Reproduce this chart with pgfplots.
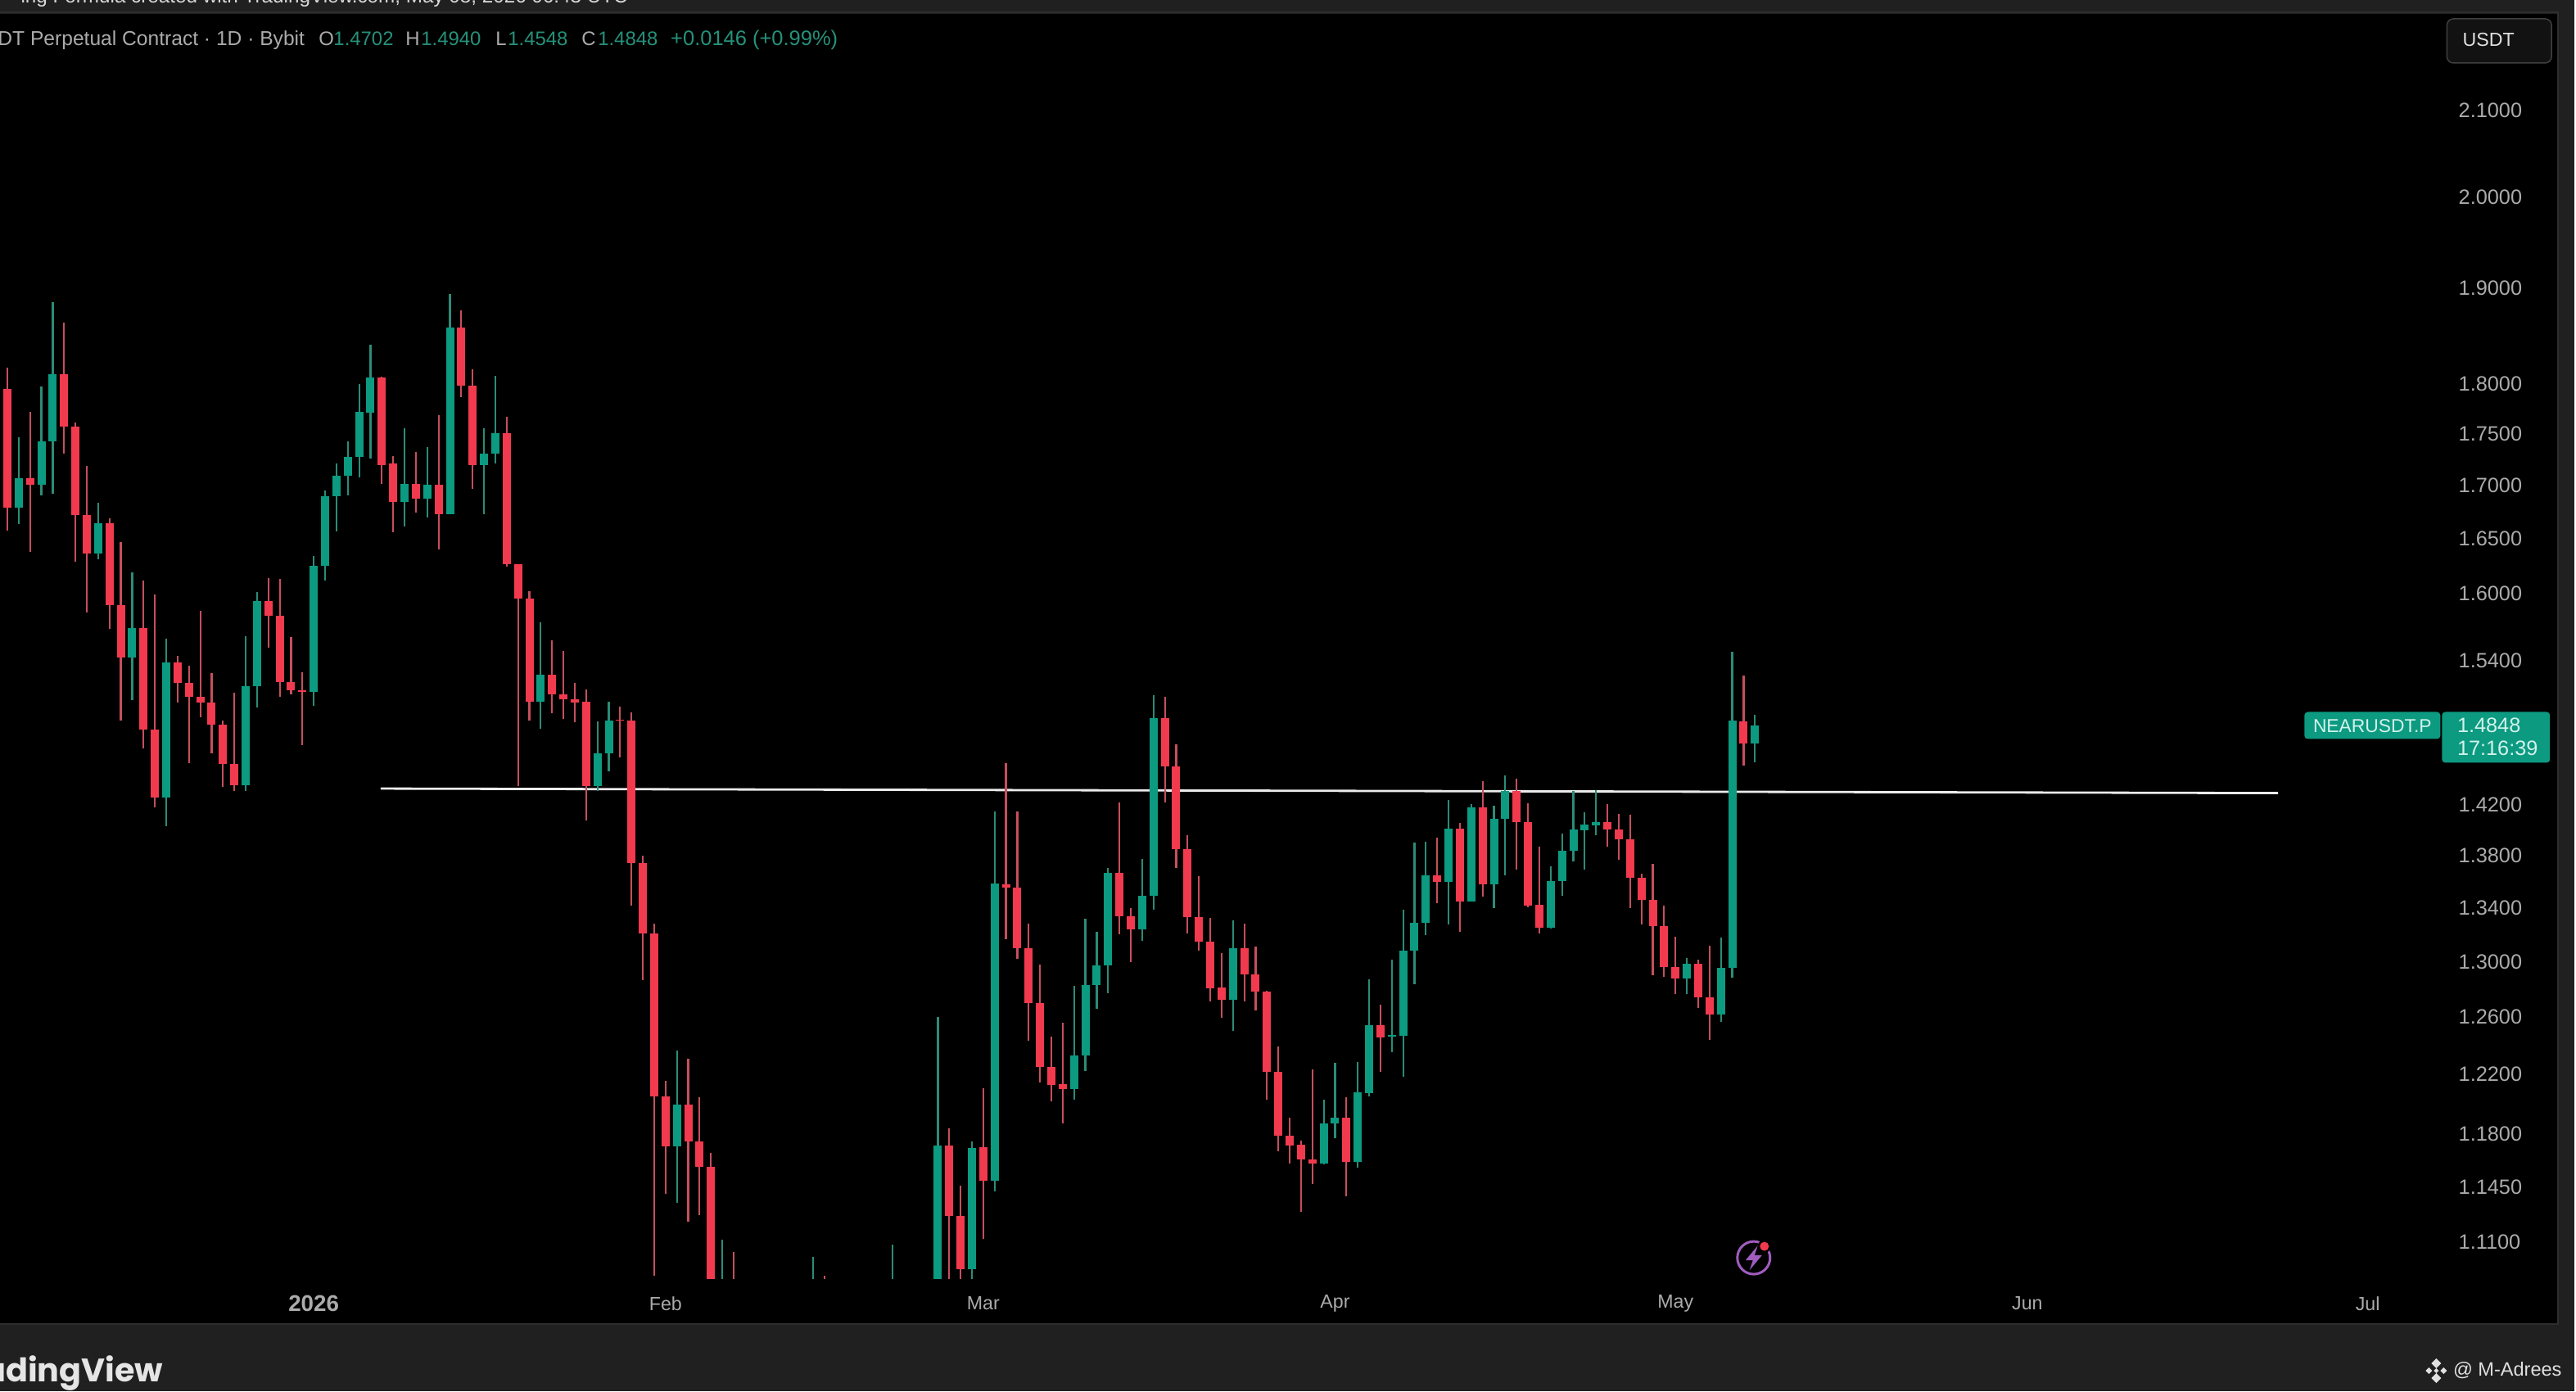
\documentclass[border=0pt]{standalone}
\usepackage{fontspec}
\setmainfont{Liberation Sans}
\newfontfamily\logofont{Poppins}
\usepackage{pgfplots}
\usepackage{pgfplotstable}
\pgfplotsset{compat=1.18}

\definecolor{panel}{HTML}{000000}
\definecolor{frame}{HTML}{202020}
\definecolor{upbody}{HTML}{0C9A81}
\definecolor{upwick}{HTML}{2C8C78}
\definecolor{downbody}{HTML}{F23A4E}
\definecolor{downwick}{HTML}{C64F5C}
\definecolor{ticktext}{HTML}{ABABAB}
\definecolor{headgreen}{HTML}{26917B}
\definecolor{tagtext}{HTML}{D2F2EA}
\definecolor{bolt}{HTML}{A05CBE}

% daily candles, i = days after 5 Dec 2025 (1 Jan 2026 is i=27)
\pgfplotstableread{
i o h l c
1 1.6789 1.7467 1.6638 1.7072
3 1.7005 1.7973 1.6905 1.7432
4 1.7432 1.8850 1.6918 1.8101
8 1.6363 1.6836 1.6306 1.6641
11 1.5431 1.6191 1.5062 1.5688
14 1.4259 1.5591 1.4032 1.5388
21 1.4359 1.5616 1.4309 1.5181
22 1.5181 1.6011 1.5000 1.5926
27 1.5131 1.6340 1.5015 1.6250
28 1.6246 1.6952 1.6117 1.6902
29 1.6895 1.7215 1.6569 1.7096
30 1.7093 1.7425 1.6905 1.7275
31 1.7272 1.8002 1.7075 1.7719
32 1.7711 1.8406 1.7257 1.8068
35 1.6843 1.7554 1.6614 1.7015
37 1.6873 1.7376 1.6697 1.7008
39 1.6730 1.8939 1.6730 1.8580
42 1.7198 1.7554 1.6727 1.7304
43 1.7304 1.8083 1.7213 1.7509
47 1.5048 1.5738 1.4823 1.5279
52 1.4353 1.4883 1.4315 1.4619
53 1.4619 1.5053 1.4471 1.4894
59 1.1716 1.2365 1.1349 1.1992
63 1.05 1.1117 1.04 1.07
71 1.04 1.1006 1.03 1.06
78 1.04 1.1086 1.03 1.06
82 1.06 1.2602 1.05 1.1719
85 1.0930 1.1750 1.08 1.1706
87 1.1491 1.4148 1.1424 1.3583
94 1.2098 1.2825 1.2025 1.2331
95 1.2331 1.3321 1.2225 1.2830
96 1.2830 1.3218 1.2660 1.2975
97 1.2975 1.3707 1.2770 1.3668
100 1.3239 1.3773 1.3152 1.3491
101 1.3491 1.5106 1.3389 1.4909
108 1.2723 1.3307 1.2505 1.3101
116 1.1604 1.2025 1.1596 1.1869
117 1.1869 1.2278 1.1768 1.1904
119 1.1614 1.2283 1.1578 1.2079
120 1.2074 1.2873 1.2052 1.2542
122 1.2461 1.3015 1.2355 1.2473
123 1.2470 1.3386 1.2183 1.3082
124 1.3082 1.3900 1.2833 1.3288
125 1.3288 1.3908 1.3194 1.3650
127 1.3596 1.4239 1.3273 1.4012
129 1.3448 1.4207 1.3448 1.4181
131 1.3576 1.4196 1.3396 1.4089
132 1.4086 1.4439 1.3650 1.4309
136 1.3252 1.3717 1.3247 1.3603
137 1.3603 1.3972 1.3489 1.3841
138 1.3841 1.4309 1.3756 1.4004
139 1.4002 1.4140 1.3694 1.4046
140 1.4041 1.4320 1.3961 1.4063
148 1.2878 1.3027 1.2767 1.2986
151 1.2616 1.3178 1.2567 1.2955
152 1.2954 1.5482 1.2881 1.4889
154 1.4702 1.4940 1.4548 1.4848
}\uptab

\pgfplotstableread{
i o h l c
0 1.7949 1.8168 1.6574 1.6789
2 1.7072 1.7722 1.6376 1.7005
5 1.8101 1.8631 1.7309 1.7575
6 1.7575 1.7617 1.6284 1.6720
7 1.6720 1.7188 1.5823 1.6363
9 1.6641 1.6690 1.5679 1.5895
10 1.5895 1.6465 1.4889 1.5431
12 1.5688 1.6111 1.4660 1.4817
13 1.4817 1.5986 1.4180 1.4259
15 1.5388 1.5441 1.5042 1.5213
16 1.5213 1.5358 1.4540 1.5089
17 1.5089 1.5844 1.4918 1.5042
18 1.5042 1.5296 1.4619 1.4859
19 1.4859 1.4894 1.4347 1.4530
20 1.4530 1.5128 1.4312 1.4359
23 1.5926 1.6134 1.5516 1.5795
24 1.5795 1.6127 1.5095 1.5219
25 1.5219 1.5610 1.5116 1.5148
26 1.5151 1.5299 1.4687 1.5131
33 1.8068 1.8072 1.7012 1.7198
34 1.7213 1.7283 1.6558 1.6843
36 1.7015 1.7327 1.6740 1.6873
38 1.7008 1.7683 1.6399 1.6730
40 1.8580 1.8765 1.7865 1.7981
41 1.7981 1.8150 1.6965 1.7198
44 1.7509 1.7673 1.6240 1.6263
45 1.6263 1.6266 1.4353 1.5948
46 1.5948 1.6017 1.4889 1.5048
48 1.5279 1.5578 1.4954 1.5116
49 1.5116 1.5490 1.4906 1.5068
50 1.5071 1.5208 1.4880 1.5044
51 1.5053 1.5157 1.4076 1.4353
54 1.4900 1.5009 1.4584 1.4889
55 1.4894 1.4962 1.3416 1.3741
56 1.3741 1.3798 1.2867 1.3208
57 1.3208 1.3282 1.0894 1.2052
58 1.2052 1.2154 1.1408 1.1716
60 1.1992 1.2307 1.1229 1.1748
61 1.1748 1.2043 1.1269 1.1581
62 1.1581 1.1670 1.06 1.07
64 1.07 1.104 1.04 1.05
72 1.07 1.0894 1.04 1.05
83 1.1719 1.1837 1.07 1.1265
84 1.1265 1.1457 1.08 1.0930
86 1.1709 1.2106 1.1122 1.1491
88 1.3579 1.4542 1.3164 1.3552
89 1.3552 1.4148 1.3022 1.3101
90 1.3101 1.3283 1.2436 1.2703
91 1.2703 1.2978 1.2143 1.2253
92 1.2253 1.2461 1.2017 1.2130
93 1.2133 1.2560 1.1869 1.2098
98 1.3668 1.4220 1.3204 1.3339
99 1.3339 1.3401 1.2998 1.3239
102 1.4909 1.5090 1.4220 1.4512
103 1.4512 1.4694 1.3704 1.3848
104 1.3848 1.3957 1.3207 1.3330
105 1.3330 1.3640 1.3083 1.3145
106 1.3145 1.3324 1.2709 1.2804
107 1.2810 1.3061 1.2593 1.2723
109 1.3101 1.3283 1.2709 1.2909
110 1.2909 1.3110 1.2645 1.2781
111 1.2781 1.2787 1.2025 1.2219
112 1.2219 1.2394 1.1681 1.1788
113 1.1788 1.1907 1.1604 1.1719
114 1.1724 1.1755 1.1290 1.1632
115 1.1632 1.2236 1.1470 1.1604
118 1.1904 1.2046 1.1388 1.1614
121 1.2542 1.2688 1.2217 1.2459
126 1.3650 1.3939 1.3437 1.3596
128 1.4012 1.4058 1.3218 1.3448
130 1.4181 1.4390 1.3484 1.3576
133 1.4309 1.4409 1.3694 1.4061
134 1.4061 1.4212 1.3403 1.3418
135 1.3423 1.3870 1.3206 1.3254
141 1.4063 1.4207 1.3872 1.4007
142 1.4007 1.4125 1.3769 1.3926
143 1.3926 1.4119 1.3396 1.3628
144 1.3628 1.3658 1.3273 1.3459
145 1.3459 1.3734 1.2901 1.3264
146 1.3264 1.3418 1.2891 1.2960
147 1.2962 1.3185 1.2765 1.2878
149 1.2986 1.3015 1.2663 1.2740
150 1.2740 1.3115 1.2441 1.2616
153 1.4887 1.5275 1.4516 1.4702
}\downtab

% wicks first, then bodies on top; marks have no size, only the error bars show
\newcommand{\candles}[3]{%
  \addplot[only marks, mark=*, mark size=0pt, mark options={draw=none, fill=none}, forget plot,
    error bars/.cd, y dir=plus, y explicit, error mark=none,
    error bar style={line width=0.022cm, color=#3}]
    table[x=i, y=l, y error plus expr=\thisrow{h}-\thisrow{l}] {#1};
  \addplot[only marks, mark=*, mark size=0pt, mark options={draw=none, fill=none}, forget plot,
    error bars/.cd, y dir=plus, y explicit, error mark=none,
    error bar style={line width=0.1cm, color=#2}]
    table[x=i, y expr={min(\thisrow{o},\thisrow{c})},
          y error plus expr={abs(\thisrow{o}-\thisrow{c})}] {#1};
}

\begin{document}
\begin{tikzpicture}
\useasboundingbox (0,0) rectangle (31.46,17);
\clip (0,0) rectangle (31.46,17);

% frame and top strip, coordinates in reference pixels
\begin{scope}[shift={(0,17)}, x=0.01cm, y=-0.01cm]
  \fill[frame] (0,0) rectangle (3146,1700);
  \fill[panel] (0,17) rectangle (3125,1617);
  \draw[color=black!82!white, line width=0.02cm] (0,15) -- (3126,15) -- (3126,1618) -- (0,1618);
  \node[anchor=base east, inner sep=0, text=black!15!white, font=\fontsize{6.9pt}{8pt}\selectfont]
    at (768,4) {ing Formula created with TradingView.com, May 08, 2026 06:43 UTC};
\end{scope}

\begin{axis}[
  at={(0cm,1.38cm)}, anchor=south west,
  scale only axis, width=29.9cm, height=15.45cm,
  xmin=-0.65, xmax=215.1,
  ymode=log, ymin=1.0872, ymax=2.2172,
  axis line style={draw=none},
  tick style={draw=none},
  minor y tick num=0,
  xtick={27,58,86,117,147,178,208},
  xticklabels={{\fontsize{7.9pt}{8pt}\selectfont\textbf{2026}},Feb,Mar,Apr,May,Jun,Jul},
  xticklabel style={text=ticktext, font=\fontsize{6.6pt}{8pt}\selectfont, anchor=center, inner sep=0pt, yshift=-0.3cm},
  ytick={1.11,1.145,1.18,1.22,1.26,1.30,1.34,1.38,1.42,1.54,1.60,1.65,1.70,1.75,1.80,1.90,2.00,2.10},
  yticklabels={1.1100,1.1450,1.1800,1.2200,1.2600,1.3000,1.3400,1.3800,1.4200,1.5400,1.6000,1.6500,1.7000,1.7500,1.8000,1.9000,2.0000,2.1000},
  yticklabel pos=right,
  yticklabel style={text=ticktext, font=\fontsize{7.2pt}{8pt}\selectfont, anchor=west, inner sep=0pt, xshift=0.12cm},
  clip=true,
]
  % horizontal level the author drew
  \addplot[forget plot, white!92!black, line width=0.028cm] coordinates {(32.9,1.4332) (200.1,1.4295)};
  \candles{\uptab}{upbody}{upwick}
  \candles{\downtab}{downbody}{downwick}
\end{axis}

\begin{scope}[shift={(0,17)}, x=0.01cm, y=-0.01cm,
    txt/.style={inner sep=0, font=\fontsize{6.8pt}{8pt}\selectfont}]
  % legend line
  \node[inner sep=0, font=\fontsize{7pt}{8pt}\selectfont, anchor=base east, text=ticktext] at (373,56) {NEARUSDT Perpetual Contract · 1D · Bybit};
  \node[txt, anchor=base west, text=ticktext] at (389,56) {O};
  \node[txt, anchor=base west, text=headgreen] at (407,56) {1.4702};
  \node[txt, anchor=base west, text=ticktext] at (495,56) {H};
  \node[txt, anchor=base west, text=headgreen] at (514,56) {1.4940};
  \node[txt, anchor=base west, text=ticktext] at (605,56) {L};
  \node[txt, anchor=base west, text=headgreen] at (620,56) {1.4548};
  \node[txt, anchor=base west, text=ticktext] at (710,56) {C};
  \node[txt, anchor=base west, text=headgreen] at (730,56) {1.4848};
  \node[inner sep=0, font=\fontsize{7.25pt}{8pt}\selectfont, anchor=base west, text=headgreen] at (819,56) {+0.0146 (+0.99\%)};

  % currency box
  \draw[draw=black!75!white, fill=black!93!white, line width=0.015cm, rounded corners=0.08cm] (2990,23) rectangle (3118,77);
  \node[inner sep=0, anchor=center, text=black!12!white, font=\fontsize{6.6pt}{8pt}\selectfont] at (3041,49) {USDT};

  % last price tags
  \fill[upbody, rounded corners=0.04cm] (2816,870) rectangle (2982,903);
  \fill[upbody, rounded corners=0.04cm] (2984,870) rectangle (3116,932);
  \node[inner sep=0, anchor=center, text=tagtext, font=\fontsize{6.5pt}{8pt}\selectfont] at (2899,887) {NEARUSDT.P};
  \node[inner sep=0, anchor=west, text=tagtext, font=\fontsize{7.2pt}{8pt}\selectfont] at (3002,886) {1.4848};
  \node[inner sep=0, anchor=west, text=tagtext, font=\fontsize{7.2pt}{8pt}\selectfont] at (3002,914) {17:16:39};

  % news icon
  \draw[bolt, line width=0.03cm] (2143,1537) circle[radius=20];
  \fill[bolt] (2148,1522) -- (2133,1540) -- (2142,1540) -- (2138,1552) -- (2153,1534) -- (2144,1534) -- cycle;
  \fill[panel] (2156,1523) circle[radius=8];
  \fill[downbody] (2156,1523) circle[radius=5.5];

  % footer
  \node[inner sep=0, anchor=base east, text=black!10!white, font=\fontsize{11.3pt}{14pt}\selectfont\logofont\bfseries] at (200,1688) {TradingView};
  \node[inner sep=0, anchor=east, text=black!12!white, font=\fontsize{6.7pt}{8pt}\selectfont] at (3131,1675) {@ M-Adrees};
  \begin{scope}[shift={(2977,1675)}]
    \fill[black!12!white] (0,-15) -- (6,-9) -- (0,-3) -- (-6,-9) -- cycle;
    \fill[black!12!white] (0,15) -- (6,9) -- (0,3) -- (-6,9) -- cycle;
    \fill[black!12!white] (-9,-4) -- (-5,0) -- (-9,4) -- (-13,0) -- cycle;
    \fill[black!12!white] (9,-4) -- (13,0) -- (9,4) -- (5,0) -- cycle;
    \fill[black!12!white] (0,-3) -- (3,0) -- (0,3) -- (-3,0) -- cycle;
  \end{scope}
\end{scope}
\end{tikzpicture}
\end{document}
